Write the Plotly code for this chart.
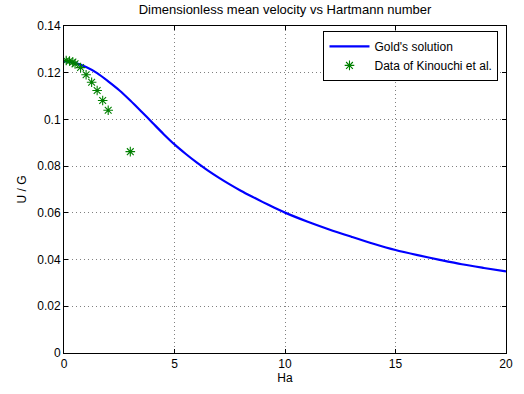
import plotly.graph_objects as go

# Gold's analytical solution: mean velocity vs Hartmann number
gold_ha = [0, 0.5, 1.0, 1.5, 2.0, 2.5, 3.0, 3.5, 4.0, 4.5, 5.0, 5.5, 6.0, 6.5, 7.0,
           7.5, 8.0, 8.5, 9.0, 9.5, 10, 11, 12, 13, 14, 15, 16, 17, 18, 19, 20]
gold_u = [0.1250, 0.1242, 0.1224, 0.1198, 0.1163, 0.1125, 0.1081, 0.1034, 0.0986,
          0.0938, 0.0893, 0.0853, 0.0816, 0.0782, 0.0751, 0.0722, 0.0695, 0.0670,
          0.0646, 0.0623, 0.0601, 0.0563, 0.0529, 0.0498, 0.0468, 0.0441, 0.0419,
          0.0399, 0.0380, 0.0364, 0.0349]

# Experimental data of Kinouchi et al.
kin_ha = [0.1, 0.25, 0.4, 0.5, 0.75, 1.0, 1.25, 1.5, 1.75, 2.0, 3.0]
kin_u = [0.1252, 0.1250, 0.1246, 0.1238, 0.1222, 0.1191, 0.1159, 0.1124, 0.1081,
         0.1039, 0.0862]

x_ticks = [0, 5, 10, 15, 20]
y_ticks = [0, 0.02, 0.04, 0.06, 0.08, 0.1, 0.12, 0.14]
y_tick_text = ["0", "0.02", "0.04", "0.06", "0.08", "0.1", "0.12", "0.14"]

font = "Liberation Sans, Arial, Helvetica, sans-serif"

fig = go.Figure()
fig.add_trace(go.Scatter(
    x=gold_ha, y=gold_u, mode="lines", name="Gold's solution",
    line=dict(color="#0000ff", width=2.2, shape="spline", smoothing=0.8),
))
fig.add_trace(go.Scatter(
    x=kin_ha, y=kin_u, mode="markers", name="Data of Kinouchi et al.",
    marker=dict(symbol="asterisk-open", size=8, color="#008000",
                line=dict(color="#008000", width=1.1)),
))

axis_common = dict(
    showline=True, linecolor="black", linewidth=1, mirror="allticks",
    ticks="inside", ticklen=4, tickcolor="black",
    showgrid=True, gridcolor="#808080", griddash="1px,3px", gridwidth=1,
    zeroline=False,
    tickfont=dict(family=font, size=12, color="black"),
)

fig.update_layout(
    width=524, height=394,
    margin=dict(l=64, r=11, t=26, b=41),
    paper_bgcolor="white", plot_bgcolor="white",
    font=dict(family=font, size=12, color="black"),
    title=dict(text="Dimensionless mean velocity vs Hartmann number",
               x=0.5, xref="paper", xanchor="center", y=0.975, yanchor="middle",
               font=dict(family=font, size=13, color="black")),
    xaxis=dict(range=[0, 20], tickvals=x_ticks,
               title=dict(text="Ha", standoff=2, font=dict(family=font, size=12)),
               **axis_common),
    yaxis=dict(range=[0, 0.14], tickvals=y_ticks, ticktext=y_tick_text,
               title=dict(text="U / G", standoff=8, font=dict(family=font, size=12)),
               **axis_common),
    legend=dict(x=0.983, y=0.985, xanchor="right", yanchor="top",
                bgcolor="white", bordercolor="black", borderwidth=1,
                font=dict(family=font, size=12, color="black"),
                itemwidth=40, tracegroupgap=0),
    showlegend=True,
)

fig.write_html("out.html")
